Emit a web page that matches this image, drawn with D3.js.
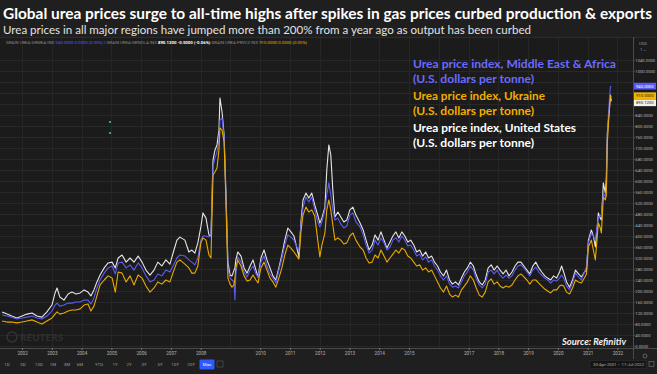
<!DOCTYPE html>
<html><head><meta charset="utf-8">
<script src="https://cdn.jsdelivr.net/npm/d3@7"></script>
<style>
html,body{margin:0;padding:0;background:#1e1e1e;overflow:hidden;}
svg{display:block;}
</style></head><body>
<svg id="chart" width="657" height="374"></svg>
<script>
const dates = [
"2001-05-01","2001-07-01","2001-08-28","2001-10-30","2002-01-01","2002-03-03","2002-05-03","2002-07-03","2002-09-02","2002-11-02",
"2003-01-03","2003-02-10","2003-03-06","2003-04-10","2003-05-30","2003-07-20","2003-09-05","2003-10-25","2003-12-15","2004-02-01",
"2004-03-20","2004-04-25","2004-06-01","2004-07-08","2004-08-15","2004-10-05","2004-11-22","2005-01-10","2005-02-18","2005-03-25",
"2005-05-12","2005-07-01","2005-08-18","2005-10-05","2005-11-25","2006-01-12","2006-03-01","2006-04-20","2006-06-08","2006-07-25",
"2006-09-12","2006-11-01","2006-12-20","2007-02-08","2007-03-16","2007-04-22","2007-06-22","2007-08-10","2007-09-16","2007-10-22",
"2007-11-28","2008-01-04","2008-01-30","2008-03-07","2008-04-12","2008-05-07","2008-06-01","2008-06-25","2008-07-20","2008-08-13",
"2008-08-25","2008-09-20","2008-10-15","2008-11-06","2008-12-01","2008-12-27","2009-01-20","2009-02-14","2009-02-25","2009-03-08",
"2009-04-01","2009-05-10","2009-06-17","2009-07-24","2009-08-30","2009-10-05","2009-11-10","2009-12-05","2010-01-10","2010-02-17",
"2010-03-25","2010-05-01","2010-06-06","2010-07-12","2010-08-18","2010-09-24","2010-10-30","2010-12-06","2011-01-13","2011-02-19",
"2011-03-27","2011-04-21","2011-05-16","2011-06-10","2011-07-16","2011-08-20","2011-09-26","2011-11-01","2011-12-08","2012-01-03",
"2012-01-28","2012-03-05","2012-03-28","2012-04-22","2012-05-16","2012-06-10","2012-07-06","2012-08-11","2012-09-16","2012-10-23",
"2012-11-28","2013-01-05","2013-02-12","2013-03-20","2013-05-10","2013-06-17","2013-07-23","2013-08-29","2013-10-05","2013-11-10",
"2013-12-17","2014-01-22","2014-02-28","2014-04-05","2014-05-12","2014-06-17","2014-07-24","2014-08-29","2014-10-05","2014-11-10",
"2014-12-17","2015-01-22","2015-02-28","2015-04-05","2015-05-12","2015-06-17","2015-07-24","2015-08-29","2015-10-05","2015-11-10",
"2015-12-17","2016-01-22","2016-02-28","2016-04-05","2016-05-12","2016-06-17","2016-07-24","2016-08-29","2016-10-05","2016-11-10",
"2016-12-17","2017-01-22","2017-02-28","2017-04-05","2017-05-12","2017-06-17","2017-07-24","2017-08-29","2017-10-05","2017-11-10",
"2017-12-17","2018-01-22","2018-02-28","2018-04-05","2018-05-12","2018-06-17","2018-07-24","2018-08-29","2018-10-05","2018-11-10",
"2018-12-17","2019-01-22","2019-02-28","2019-04-05","2019-05-12","2019-06-17","2019-07-24","2019-08-29","2019-10-05","2019-11-10",
"2019-12-17","2020-01-22","2020-02-16","2020-03-12","2020-04-17","2020-05-24","2020-06-29","2020-08-04","2020-09-10","2020-10-16",
"2020-11-22","2020-12-17","2021-01-10","2021-02-15","2021-03-12","2021-04-05","2021-04-30","2021-05-12","2021-06-05","2021-06-18",
"2021-07-12","2021-08-06","2021-08-18","2021-08-30","2021-09-12","2021-09-24","2021-10-06","2021-10-18"
];
// Urea price index, United States (white)
const usValues = [
124,116,109,102,109,116,120,109,105,124,
149,193,211,178,167,189,196,189,193,204,
196,182,204,233,258,284,302,305,284,320,
331,305,320,305,327,305,276,258,276,305,
291,313,298,349,385,396,385,342,349,338,
375,433,484,465,404,400,676,713,731,785,
902,851,767,567,305,258,255,276,284,313,
342,327,284,265,291,313,276,251,320,349,
313,284,255,240,284,331,385,429,415,400,
356,324,451,531,556,538,556,513,476,447,
465,505,640,731,695,567,469,487,469,451,
458,495,505,476,447,422,385,349,367,404,
385,415,385,356,378,400,415,393,415,400,
378,385,367,342,349,327,342,320,327,305,
291,269,255,276,240,225,233,222,247,269,
284,305,291,258,233,222,240,284,295,276,
291,276,262,276,255,269,291,305,305,291,
276,262,291,305,284,269,255,247,240,255,
247,269,291,269,233,214,240,276,262,251,
269,276,385,422,400,360,440,484,465,458,
593,556,615,775,822,858,913,890.12
];
// Urea price index, Middle East & Africa (blue)
const meaValues = [
113,109,105,98,102,105,109,102,98,109,
127,149,156,145,149,156,156,160,160,167,
167,153,175,211,240,265,284,291,262,302,
305,284,295,276,302,284,255,233,240,262,
255,276,269,298,320,331,327,313,305,295,
320,385,400,400,396,400,651,684,705,749,
822,829,756,545,284,247,240,233,167,258,
324,305,269,251,276,291,262,251,305,327,
291,262,247,229,276,320,367,404,396,385,
360,349,440,502,542,524,542,495,451,433,
451,495,549,593,549,495,458,465,444,429,
436,476,484,451,433,404,367,338,349,385,
367,393,375,349,360,385,393,378,400,385,
364,367,349,327,334,313,324,305,313,291,
276,255,240,255,225,214,218,211,233,255,
269,291,276,244,222,211,225,269,276,262,
276,258,247,258,247,255,276,291,295,284,
269,255,276,287,269,258,247,240,229,240,
236,247,258,247,218,204,229,265,251,240,
269,287,375,411,400,385,440,469,476,469,
556,542,567,749,840,895,942,945
];
// Urea price index, Ukraine (yellow)
const ukraineValues = [
91,87,87,84,87,91,95,87,80,91,
102,116,124,116,120,127,131,131,135,149,
153,127,145,182,222,240,255,247,196,269,
265,233,255,222,258,247,218,196,211,233,
225,240,233,276,305,313,298,284,265,265,
291,375,393,385,331,320,622,633,647,713,
793,785,742,531,247,225,214,222,247,284,
313,291,255,236,240,258,240,229,284,305,
276,247,233,214,247,284,331,367,356,342,
327,316,415,476,505,487,495,473,385,324,
367,411,495,531,495,440,385,393,385,371,
375,400,411,385,360,349,320,302,305,331,
320,349,327,305,320,334,349,338,356,349,
327,320,305,291,295,276,284,269,276,255,
233,211,196,218,189,178,185,178,204,218,
233,255,240,211,185,178,196,233,244,225,
233,218,211,218,214,222,240,255,262,251,
240,225,240,240,229,218,207,200,193,204,
204,218,222,218,196,189,211,240,233,229,
247,262,360,385,349,313,404,447,429,411,
542,531,549,738,804,858,905,910
];
const yearTicks = [2002,2003,2004,2005,2006,2007,2008,2010,2011,2012,2013,2014,2015,2017,2018,2019,2020,2021,2022];
const yTickValues = d3.range(0, 1041, 40);
const rangeButtons = ["1D","5D","10D","1M","3M","6M","YTD","1Y","2Y","3Y","5Y","10Y","20Y","Max"];
const seriesNames = ["Urea price index, Middle East & Africa","Urea price index, Ukraine","Urea price index, United States"];
const seriesCodes = ["GRAIN UREA-GRMEA-INX","GRAIN UREA-GRNOLA-INX","GRAIN UREA-PRYUZ-INX"];
const dateRangeText = ["30-Apr-2001","11-Jul-2022"];

const COL_BLUE = "#5c5cf2", COL_YEL = "#e9a900", COL_WHITE = "#e6e6e6";
const parse = d3.timeParse("%Y-%m-%d");
const dts = dates.map(parse);

const svg = d3.select("#chart");
const W = 657, H = 374;
const plotL = 0, plotR = 633, plotT = 37, plotB = 348;
const SANS = "Lato, 'Open Sans', sans-serif";
const SMALL = "Roboto, sans-serif";

svg.append("rect").attr("width", W).attr("height", H).attr("fill", "#1f1f1f");
svg.append("rect").attr("x", 0).attr("y", plotT).attr("width", W).attr("height", plotB - plotT).attr("fill", "#1b1b1b");

const x = d3.scaleTime().domain([new Date(2001,3,30), new Date(2022,6,11)]).range([2, plotR]);
const y = d3.scaleLinear().domain([0, 1120]).range([346, 38]);

// grid
const grid = svg.append("g");
grid.selectAll(".hg").data(yTickValues).join("line")
  .attr("x1", plotL).attr("x2", plotR).attr("y1", d => Math.round(y(d)) + 0.5).attr("y2", d => Math.round(y(d)) + 0.5)
  .attr("stroke", "#282828").attr("stroke-width", 1);
const yearLines = d3.range(2002, 2023).map(yr => new Date(yr, 0, 1));
grid.selectAll(".vg").data(yearLines).join("line")
  .attr("x1", d => Math.round(x(d)) + 0.5).attr("x2", d => Math.round(x(d)) + 0.5)
  .attr("y1", plotT).attr("y2", plotB)
  .attr("stroke", "#262626").attr("stroke-width", 1);

svg.append("line").attr("x1", 0).attr("x2", W).attr("y1", plotT + 0.5).attr("y2", plotT + 0.5).attr("stroke", "#2c2c2c");

// title
svg.append("text").attr("x", 3).attr("y", 18.5)
  .attr("font-family", SANS).attr("font-weight", 700).attr("font-size", 15.5)
  .attr("fill", "#ffffff").attr("textLength", 649).attr("lengthAdjust", "spacingAndGlyphs")
  .text("Global urea prices surge to all-time highs after spikes in gas prices curbed production & exports");
svg.append("text").attr("x", 3).attr("y", 34)
  .attr("font-family", SANS).attr("font-size", 11.5)
  .attr("fill", "#e2e2e2").attr("textLength", 528).attr("lengthAdjust", "spacingAndGlyphs")
  .text("Urea prices in all major regions have jumped more than 200% from a year ago as output has been curbed");

// tiny header quotes
const fmt4 = d3.format(".4f");
const hdr = svg.append("text").attr("x", 6).attr("y", 44).attr("font-family", SMALL).attr("font-size", 4.3).attr("fill", "#8a8a8a");
hdr.append("tspan").text(seriesCodes[0] + "  ");
hdr.append("tspan").attr("fill", COL_BLUE).text(fmt4(meaValues[meaValues.length-1]) + " 0.0000 (0.00%)");
hdr.append("tspan").text("      |      " + seriesCodes[1] + "  ");
hdr.append("tspan").attr("fill", "#ffffff").attr("font-weight", 700).text(fmt4(usValues[usValues.length-1]) + " -0.5000 (-0.06%)");
hdr.append("tspan").text("   " + seriesCodes[2] + "  ");
hdr.append("tspan").attr("fill", COL_YEL).text(fmt4(ukraineValues[ukraineValues.length-1]) + " 0.0000 (0.00%)");

// lines
svg.append("defs").append("clipPath").attr("id", "pc").append("rect")
  .attr("x", plotL).attr("y", plotT).attr("width", plotR - plotL).attr("height", plotB - plotT);
const line = vals => d3.line().x((d, i) => x(dts[i])).y(d => y(d))(vals);
const lg = svg.append("g").attr("clip-path", "url(#pc)");
lg.append("path").attr("d", line(usValues)).attr("fill", "none").attr("stroke", COL_WHITE).attr("stroke-width", 1.1).attr("stroke-linejoin", "round");
lg.append("path").attr("d", line(meaValues)).attr("fill", "none").attr("stroke", COL_BLUE).attr("stroke-width", 1.1).attr("stroke-linejoin", "round");
lg.append("path").attr("d", line(ukraineValues)).attr("fill", "none").attr("stroke", COL_YEL).attr("stroke-width", 1.1).attr("stroke-linejoin", "round");

// legend
const legend = [
  {t: seriesNames[0], c: "#6a6aff", y: 68, w: 203},
  {t: "(U.S. dollars per tonne)", c: "#6a6aff", y: 83, w: 121},
  {t: seriesNames[1], c: "#f0ae00", y: 100, w: 132},
  {t: "(U.S. dollars per tonne)", c: "#f0ae00", y: 115, w: 121},
  {t: seriesNames[2], c: "#ffffff", y: 132, w: 163},
  {t: "(U.S. dollars per tonne)", c: "#ffffff", y: 147, w: 121}
];
svg.selectAll(".leg").data(legend).join("text")
  .attr("x", 413).attr("y", d => d.y).attr("fill", d => d.c)
  .attr("font-family", SANS).attr("font-weight", 700).attr("font-size", 11)
  .attr("textLength", d => d.w).attr("lengthAdjust", "spacingAndGlyphs").text(d => d.t);

// small markers
svg.append("circle").attr("cx", 110).attr("cy", 122).attr("r", 1.1).attr("fill", "#3fc0a0");
svg.append("circle").attr("cx", 110).attr("cy", 133).attr("r", 1.1).attr("fill", "#3fc0a0");

// last value tags (stacked so they do not collide)
const tags = [
  {v: meaValues[meaValues.length-1], bg: "#5a5af5", fg: "#ffffff"},
  {v: ukraineValues[ukraineValues.length-1], bg: "#f2b400", fg: "#222"},
  {v: usValues[usValues.length-1], bg: "#f0f0f0", fg: "#222"}
].sort((a, b) => y(a.v) - y(b.v));
let prevY = -100;
tags.forEach(t => { t.py = Math.max(y(t.v), prevY + 7); prevY = t.py; });

// right axis (labels hidden under tags)
const ra = svg.append("g").attr("transform", `translate(${plotR},0)`)
  .call(d3.axisRight(y).tickValues(yTickValues.filter(v => !tags.some(t => Math.abs(y(v) - t.py) < 6)))
    .tickFormat(fmt4).tickSize(1.5).tickPadding(0.8));
ra.select(".domain").attr("stroke", "#4a4a4a");
ra.selectAll(".tick line").attr("stroke", "#6a6a6a");
ra.selectAll(".tick text").attr("fill", "#b5b5b5").attr("font-size", 4.2).attr("font-family", SMALL);
svg.append("line").attr("x1", plotR + 0.5).attr("x2", plotR + 0.5).attr("y1", plotT).attr("y2", H - 3).attr("stroke", "#4a4a4a");

const tg = svg.selectAll(".tag").data(tags).join("g").attr("transform", d => `translate(${plotR + 1},${d.py})`);
tg.append("rect").attr("x", 0).attr("y", -3.4).attr("width", 22).attr("height", 6.8).attr("fill", d => d.bg);
tg.append("text").attr("x", 2).attr("y", 1.5).attr("font-size", 4.2).attr("font-family", SMALL).attr("fill", d => d.fg).text(d => fmt4(d.v));

// top right axis controls
svg.append("text").attr("x", 639).attr("y", 45).attr("font-size", 4.2).attr("font-family", SMALL).attr("fill", "#999").text("USD");
svg.append("text").attr("x", 640).attr("y", 51).attr("font-size", 4.2).attr("font-family", SMALL).attr("fill", "#999").text("1  ⌄");

// bottom axis
svg.append("line").attr("x1", 0).attr("x2", W).attr("y1", plotB + 0.5).attr("y2", plotB + 0.5).attr("stroke", "#4a4a4a");
const ba = svg.append("g").attr("transform", `translate(0,${plotB})`)
  .call(d3.axisBottom(x).tickValues(yearTicks.map(yr => new Date(yr, 0, 1))).tickFormat(d3.timeFormat("%Y")).tickSize(2).tickPadding(2));
ba.select(".domain").remove();
ba.selectAll(".tick line").attr("stroke", "#777");
ba.selectAll(".tick text").attr("fill", "#b5b5b5").attr("font-size", 4.6).attr("font-family", SMALL);

// gear
svg.append("circle").attr("cx", 645).attr("cy", 356).attr("r", 2).attr("fill", "none").attr("stroke", "#888").attr("stroke-width", 0.6);

// toolbar
svg.append("rect").attr("x", 0).attr("y", 359).attr("width", W).attr("height", 15).attr("fill", "#1f1f1f");
const btnX = [7, 23, 39, 53, 67, 80, 99, 115, 129, 144, 160, 175, 191, 207];
const bt = svg.selectAll(".btn").data(rangeButtons).join("g").attr("transform", (d, i) => `translate(${btnX[i]},364.5)`);
bt.filter(d => d === "Max").append("rect").attr("x", -7.5).attr("y", -5).attr("width", 15).attr("height", 10).attr("rx", 1).attr("fill", "#2e5bff");
bt.append("text").attr("text-anchor", "middle").attr("y", 1.6).attr("font-size", 4.4).attr("font-family", SMALL)
  .attr("fill", d => d === "Max" ? "#fff" : "#9a9a9a").text(d => d);
svg.append("rect").attr("x", 217).attr("y", 361).attr("width", 6).attr("height", 6).attr("fill", "none").attr("stroke", "#666").attr("stroke-width", 0.5);
svg.append("rect").attr("x", 590).attr("y", 360.5).attr("width", 56).attr("height", 8).attr("fill", "#151515").attr("stroke", "#333").attr("stroke-width", 0.5);
svg.append("text").attr("x", 593).attr("y", 366).attr("font-size", 4.3).attr("font-family", SMALL).attr("fill", "#aaa")
  .text(dateRangeText[0] + "  –  " + dateRangeText[1]);
svg.append("rect").attr("x", 649).attr("y", 361.5).attr("width", 5).attr("height", 5).attr("fill", "none").attr("stroke", "#888").attr("stroke-width", 0.5);

// watermark and source
svg.append("circle").attr("cx", 12).attr("cy", 337).attr("r", 5).attr("fill", "none").attr("stroke", "#343434").attr("stroke-width", 1.5);
svg.append("text").attr("x", 20).attr("y", 341).attr("font-family", SANS).attr("font-weight", 700).attr("font-size", 10)
  .attr("fill", "#303030").text("REUTERS");
svg.append("text").attr("x", 562).attr("y", 345).attr("font-family", SANS).attr("font-weight", 700).attr("font-style", "italic")
  .attr("font-size", 10).attr("fill", "#f2f2f2").attr("textLength", 64).attr("lengthAdjust", "spacingAndGlyphs").text("Source: Refinitiv");
</script>
</body></html>
